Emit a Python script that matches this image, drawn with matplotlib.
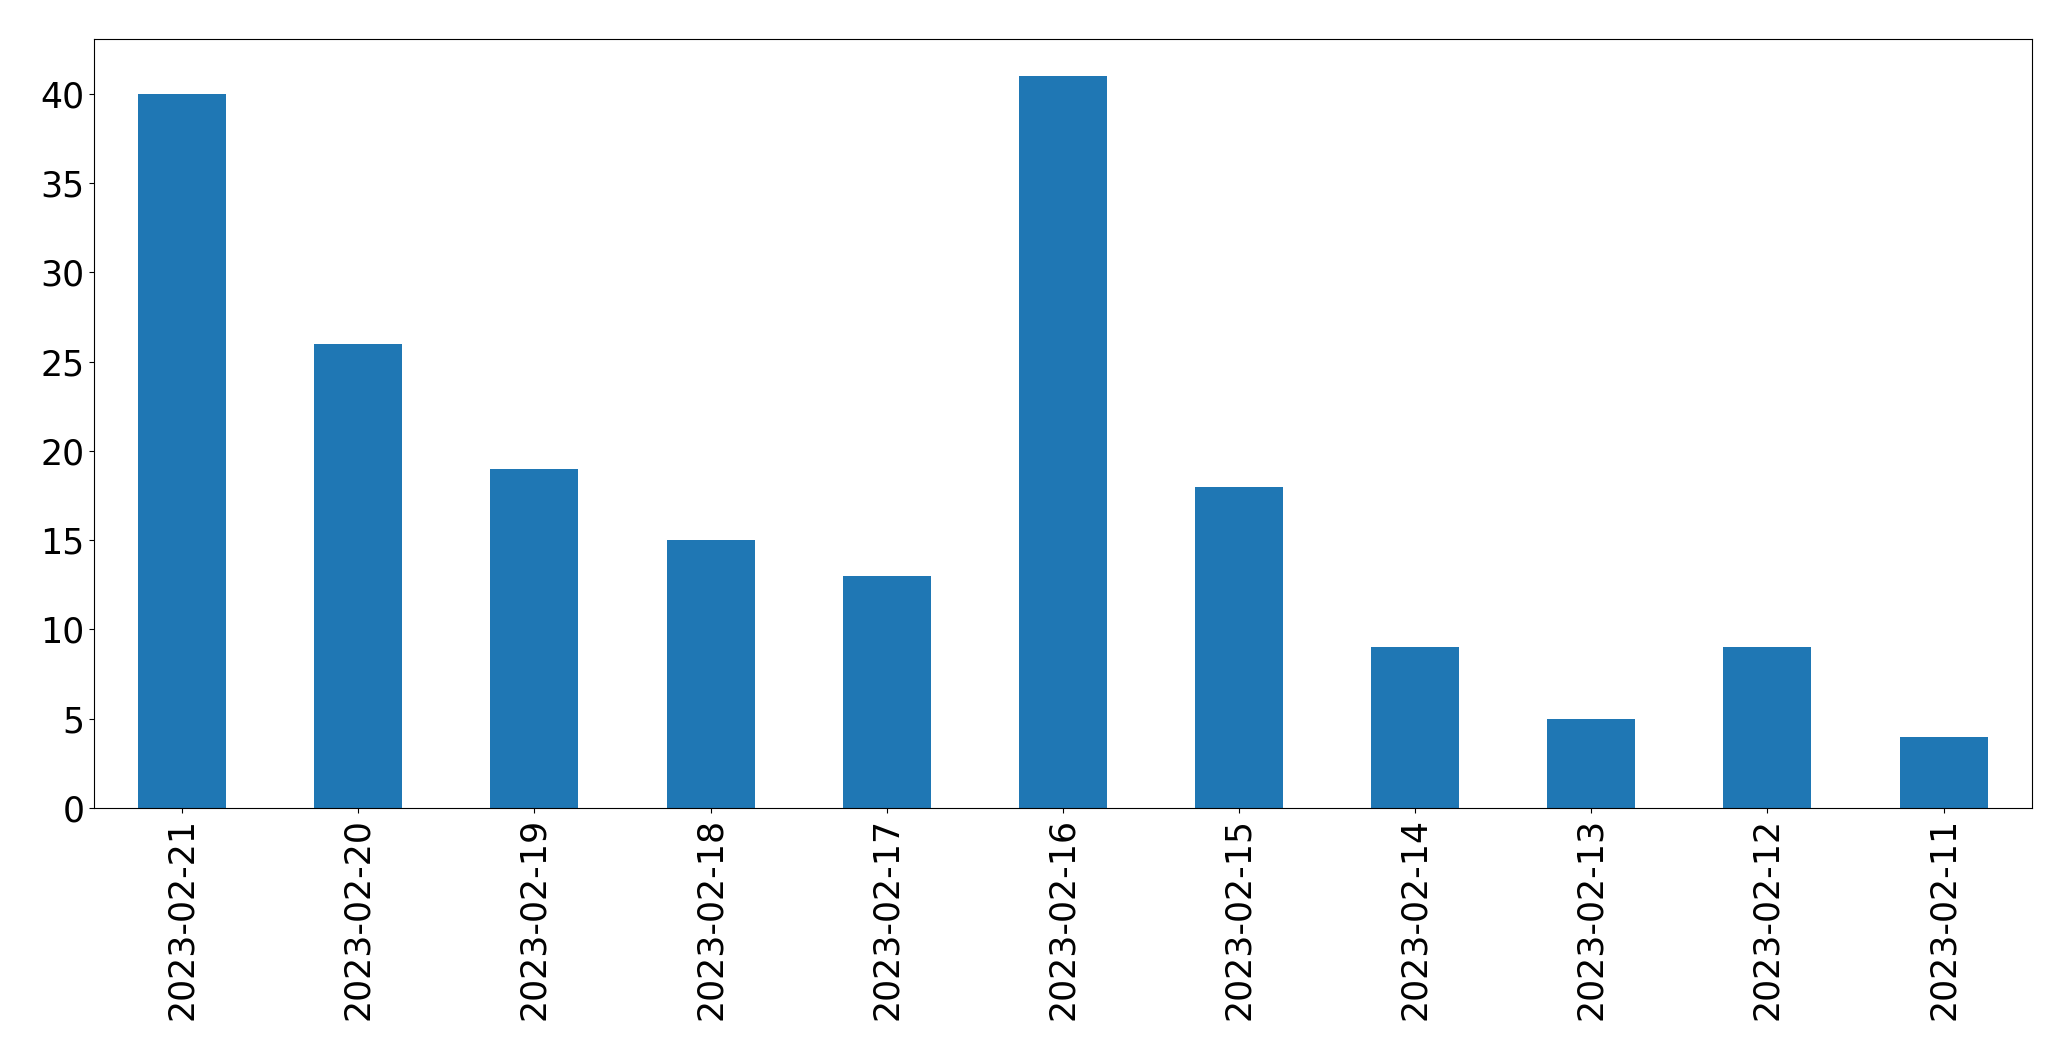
import matplotlib
matplotlib.use("Agg")
from matplotlib import pyplot as plt
import pandas as pd

dates = ["2023-02-21", "2023-02-20", "2023-02-19", "2023-02-18", "2023-02-17",
         "2023-02-16", "2023-02-15", "2023-02-14", "2023-02-13", "2023-02-12",
         "2023-02-11"]
counts = [40, 26, 19, 15, 13, 41, 18, 9, 5, 9, 4]

s = pd.Series(counts, index=dates)

fig, ax = plt.subplots(figsize=(20.71, 10.61), dpi=100)
s.plot(kind="bar", ax=ax, color="#1f77b4")
ax.tick_params(axis="both", labelsize=25)
fig.subplots_adjust(left=0.0454, right=0.981, top=0.963, bottom=0.2385)
fig.savefig("out.png", dpi=100)
